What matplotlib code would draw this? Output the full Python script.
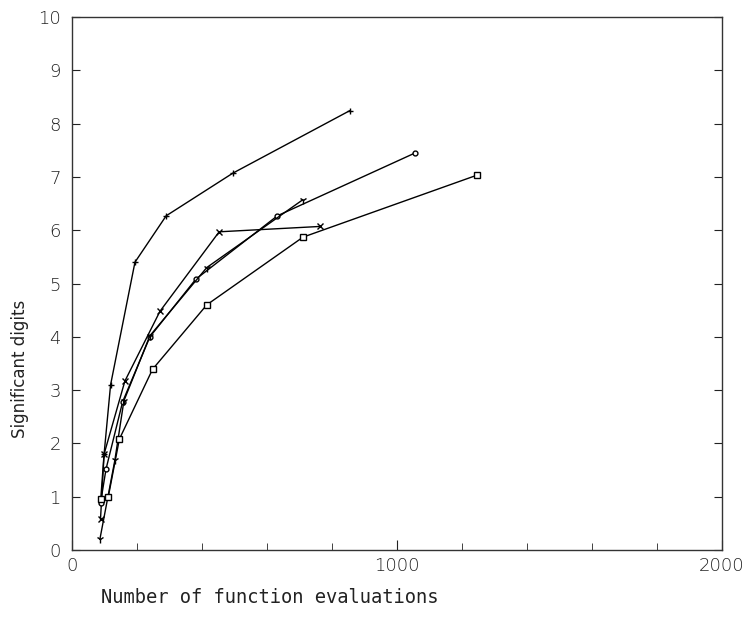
import matplotlib
matplotlib.use("Agg")
import matplotlib.pyplot as plt
from matplotlib.ticker import MultipleLocator

# values
plus_x = [88, 99, 119, 194, 290, 495, 854]
plus_y = [0.9, 1.8, 3.1, 5.4, 6.27, 7.07, 8.24]

cross_x = [88, 99, 163, 271, 453, 762]
cross_y = [0.58, 1.8, 3.17, 4.48, 5.97, 6.07]

circ_x = [88, 105, 156, 240, 381, 632, 1056]
circ_y = [0.88, 1.52, 2.78, 4.0, 5.08, 6.27, 7.45]

tri_x = [86, 132, 160, 240, 415, 710]
tri_y = [0.2, 1.68, 2.8, 4.02, 5.3, 6.57]

sq_x = [88, 112, 146, 248, 415, 711, 1245]
sq_y = [0.95, 1.0, 2.08, 3.39, 4.6, 5.87, 7.03]

x_ticks = [0, 1000, 2000]
y_ticks = list(range(0, 11))

fig = plt.figure(figsize=(7.49, 6.18), dpi=100)
ax = fig.add_axes([0.096, 0.110, 0.868, 0.8625])

kw = dict(color="black", lw=1.0, mew=1.0)
ax.plot(plus_x, plus_y, marker="+", ms=5, **kw)
ax.plot(cross_x, cross_y, marker="x", ms=5, **kw)
ax.plot(circ_x, circ_y, marker="o", mfc="white", ms=3.5, **kw)
ax.plot(tri_x, tri_y, marker="1", ms=6, **kw)
ax.plot(sq_x, sq_y, marker="s", mfc="white", ms=4, **kw)

ax.set_xlim(0, 2000)
ax.set_ylim(0, 10)
ax.set_xticks(x_ticks)
ax.set_yticks(y_ticks)
ax.xaxis.set_minor_locator(MultipleLocator(200))
ax.tick_params(direction="in", which="both", right=True, labelsize=13, colors="#222222")
ax.tick_params(axis="x", which="major", length=7, pad=5)
ax.tick_params(axis="x", which="minor", length=5)
ax.tick_params(axis="y", length=6, pad=8)
for lab in ax.get_xticklabels() + ax.get_yticklabels():
    lab.set_fontweight("light")
for s in ax.spines.values():
    s.set_linewidth(1.0)
    s.set_color("#333333")

# x label sits left of centre in the original
ax.text(0.044, -0.09, "Number of function evaluations", transform=ax.transAxes,
        family="DejaVu Sans Mono", fontsize=13.5, color="#222222",
        ha="left", va="center")
ax.set_ylabel("Significant digits", fontsize=12, color="#222222")
ax.yaxis.set_label_coords(-0.066, 0.34)

fig.savefig("out.png", dpi=100)
